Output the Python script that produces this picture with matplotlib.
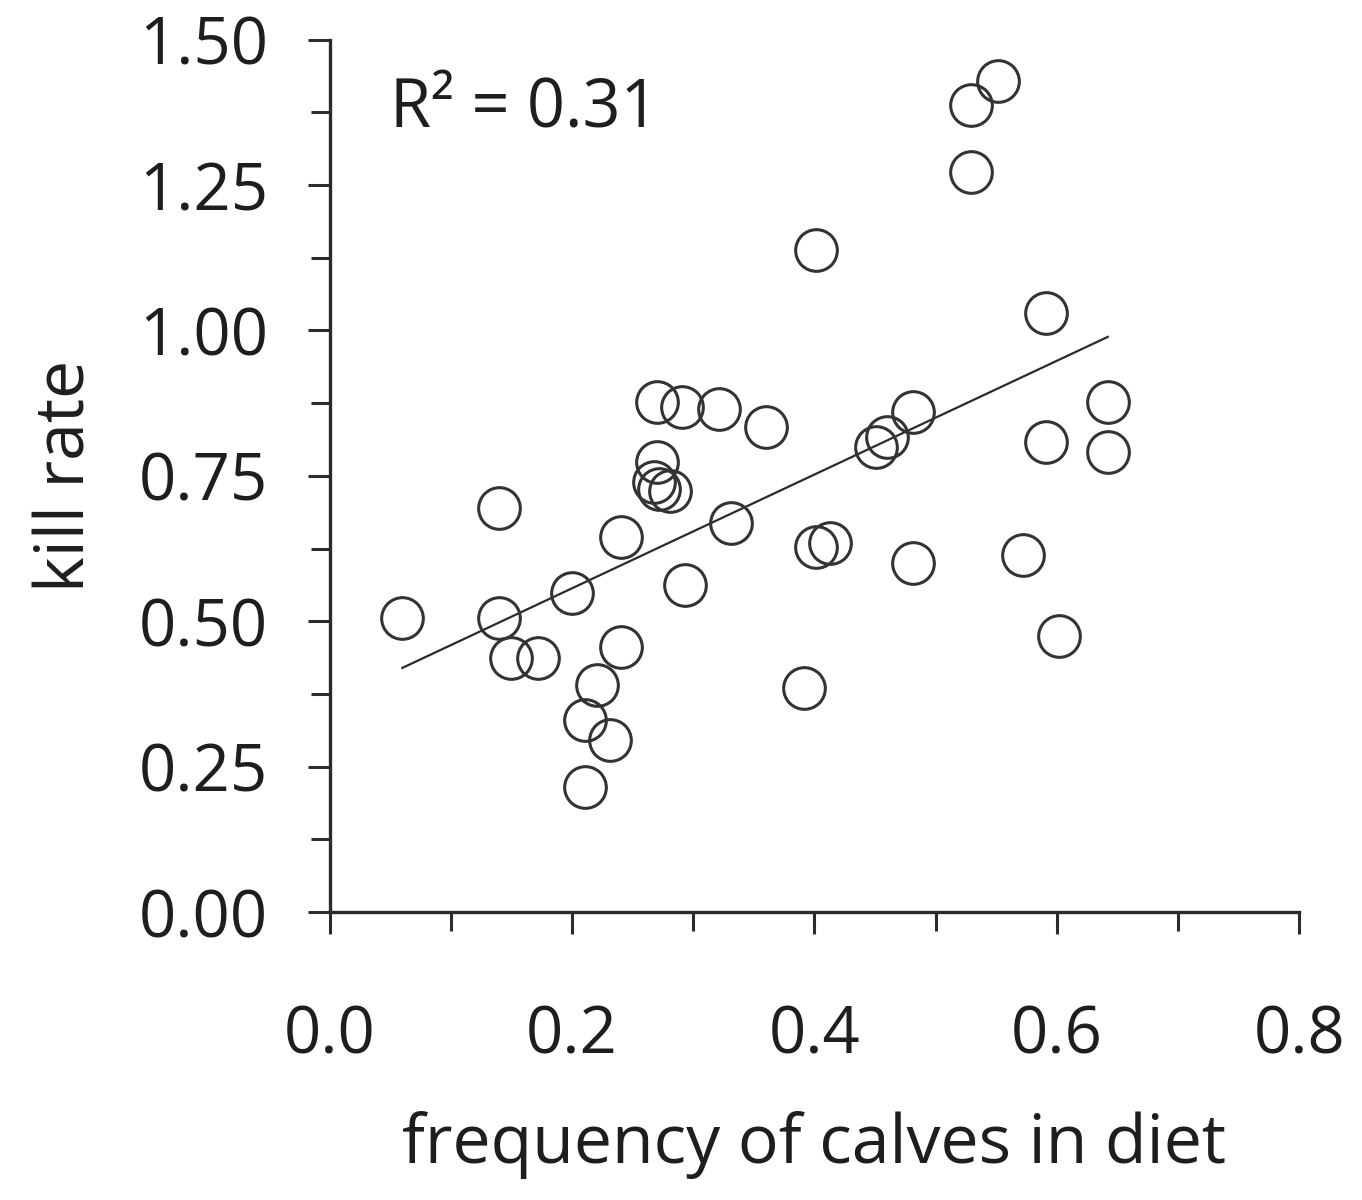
import numpy as np
import matplotlib.pyplot as plt
from matplotlib.ticker import MultipleLocator

# values
calves_freq = [0.060, 0.140, 0.140, 0.150, 0.172, 0.200, 0.240, 0.240, 0.221, 0.211,
               0.231, 0.211, 0.270, 0.291, 0.321, 0.360, 0.270, 0.268, 0.272, 0.281,
               0.293, 0.331, 0.401, 0.529, 0.551, 0.529, 0.591, 0.451, 0.460, 0.481,
               0.591, 0.642, 0.642, 0.401, 0.413, 0.481, 0.572, 0.602, 0.391]
kill_rate = [0.506, 0.695, 0.506, 0.437, 0.437, 0.549, 0.645, 0.456, 0.390, 0.330,
             0.296, 0.215, 0.877, 0.869, 0.864, 0.834, 0.773, 0.740, 0.728, 0.724,
             0.563, 0.669, 1.139, 1.388, 1.428, 1.273, 1.030, 0.800, 0.817, 0.860,
             0.808, 0.877, 0.791, 0.628, 0.635, 0.600, 0.614, 0.475, 0.385]

fit_slope = 0.978
fit_intercept = 0.361
r_squared = 0.31

plt.rcParams['font.family'] = ['Open Sans', 'DejaVu Sans']
ink = '#2b2b2b'
txt = '#1e1e1e'

fig = plt.figure(figsize=(13.62, 12), dpi=100)
ax = fig.add_axes([0.242, 0.24, 0.712, 0.727])

ax.plot(calves_freq, kill_rate, 'o', ms=30, mfc='none', mec='#333333', mew=2.2, zorder=3)

fx = np.array([min(calves_freq), max(calves_freq)])
ax.plot(fx, fit_intercept + fit_slope * fx, color=ink, lw=1.6, zorder=2)

ax.set_xlim(0, 0.8)
ax.set_ylim(0, 1.5)
ax.xaxis.set_major_locator(MultipleLocator(0.2))
ax.xaxis.set_minor_locator(MultipleLocator(0.1))
ax.yaxis.set_major_locator(MultipleLocator(0.25))
ax.yaxis.set_minor_locator(MultipleLocator(0.125))
ax.xaxis.set_major_formatter('{x:.1f}')
ax.yaxis.set_major_formatter('{x:.2f}')

for s in ['top', 'right']:
    ax.spines[s].set_visible(False)
for s in ['left', 'bottom']:
    ax.spines[s].set_linewidth(2.4)
    ax.spines[s].set_color(ink)

ax.tick_params(which='both', direction='out', color=ink, width=2.2, labelsize=47,
               labelcolor=txt)
ax.tick_params(which='major', length=16)
ax.tick_params(which='minor', length=14)
ax.tick_params(axis='x', pad=50)
ax.tick_params(axis='y', pad=28)

ax.set_xlabel('frequency of calves in diet', fontsize=49, labelpad=30, color=txt)
ax.set_ylabel('kill rate', fontsize=49, labelpad=28, color=txt)

ax.text(0.062, 0.92, 'R² = %.2f' % r_squared, transform=ax.transAxes,
        fontsize=48, color=txt, va='center')

fig.savefig('out.png', dpi=100)
